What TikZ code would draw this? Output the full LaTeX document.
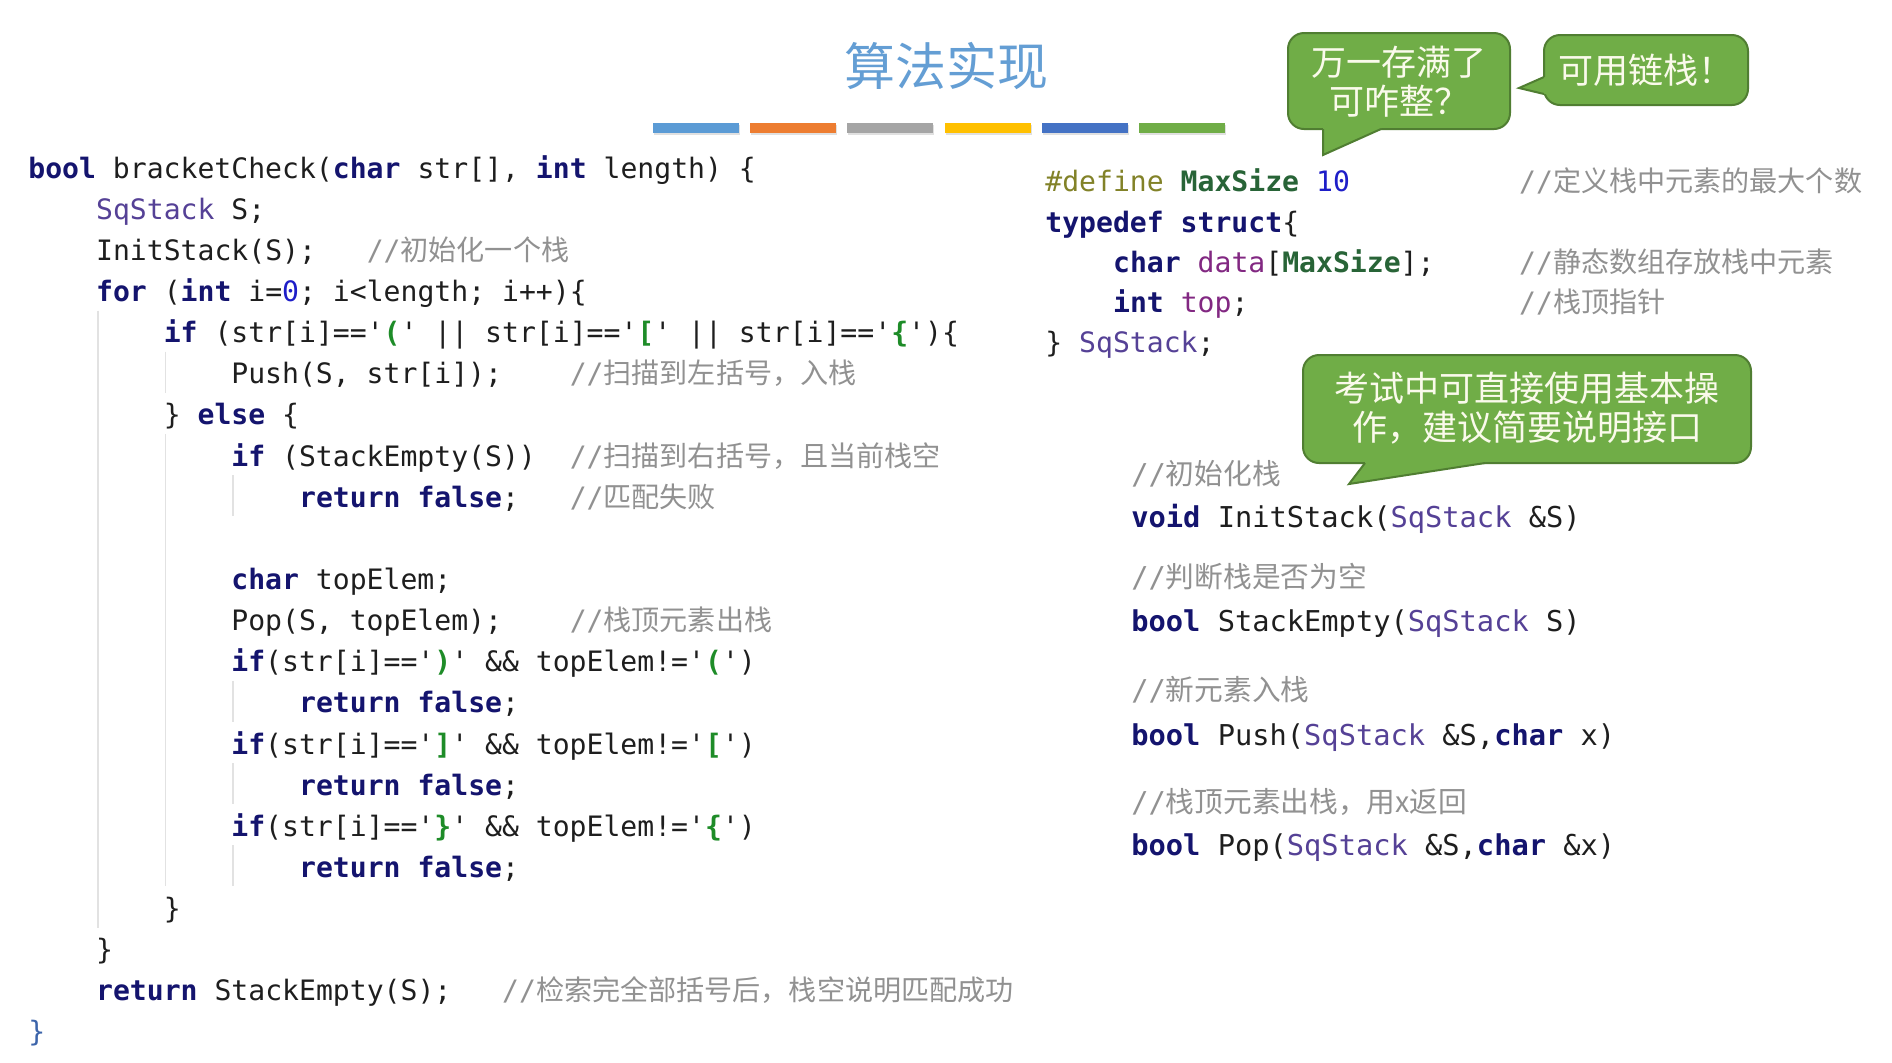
\documentclass[tikz,border=0pt]{standalone}
\usepackage{fontspec}
\setmonofont{DejaVu Sans Mono}
\newfontfamily\cjk{Noto Sans CJK SC}
\definecolor{kwc}{RGB}{20,20,110}
\definecolor{tyc}{RGB}{85,65,150}
\definecolor{litc}{RGB}{30,140,40}
\definecolor{numc}{RGB}{30,30,200}
\definecolor{cmtc}{RGB}{145,145,145}
\definecolor{txtc}{RGB}{30,30,30}
\definecolor{ppc}{RGB}{130,130,40}
\definecolor{macc}{RGB}{40,100,55}
\definecolor{varc}{RGB}{130,40,130}
\definecolor{bracec}{RGB}{60,100,170}
\definecolor{titlec}{RGB}{100,158,212}
\definecolor{bfill}{RGB}{112,173,71}
\definecolor{bdraw}{RGB}{80,126,50}
\definecolor{btext}{RGB}{250,250,235}
\definecolor{guidec}{RGB}{226,226,226}
\definecolor{barA}{RGB}{91,155,213}
\definecolor{barB}{RGB}{237,125,49}
\definecolor{barC}{RGB}{165,165,165}
\definecolor{barD}{RGB}{255,192,0}
\definecolor{barE}{RGB}{68,114,196}
\definecolor{barF}{RGB}{112,173,71}
\newcommand\KW[1]{\textcolor{kwc}{\bfseries #1}}
\newcommand\TY[1]{\textcolor{tyc}{#1}}
\newcommand\LIT[1]{'\textcolor{litc}{\bfseries #1}'}
\newcommand\NUM[1]{\textcolor{numc}{#1}}
\newcommand\CMT[1]{\textcolor{cmtc}{//{\cjk #1}}}
\newcommand\PP[1]{\textcolor{ppc}{#1}}
\newcommand\MAC[1]{\textcolor{macc}{\bfseries #1}}
\newcommand\VAR[1]{\textcolor{varc}{#1}}
\tikzset{
  code/.style={anchor=base west, inner sep=0pt, text=txtc,
    font=\fontsize{14.05}{17}\ttfamily\frenchspacing},
  codeR/.style={code, font=\fontsize{14.35}{17}\ttfamily\frenchspacing},
  bub/.style={fill=bfill, draw=bdraw, line width=1pt, rounded corners=8pt},
  bubedge/.style={draw=bdraw, line width=1pt, line join=miter},
  btxt/.style={text=btext, align=center, inner sep=0pt,
    font=\fontsize{17.5}{19.5}\cjk},
  guide/.style={draw=guidec, line width=0.8pt},
  shadowc/.style={fill=black!12}
}
\begin{document}
\begin{tikzpicture}[x=0.5pt,y=-0.5pt]
\useasboundingbox (0,0) rectangle (1892,1062);
\fill[white] (0,0) rectangle (1892,1062);

% title and colour bars
\node[font=\fontsize{25.5}{26}\cjk, text=titlec, inner sep=0pt] (title) at (946,66) {算法实现};
\foreach \c [count=\i from 0] in {barA,barB,barC,barD,barE,barF}{
  \fill[shadowc] (653+97.2*\i+1,125) rectangle (739+97.2*\i+1,135);
  \fill[\c] (653+97.2*\i,123) rectangle (739+97.2*\i,133);
}

% indent guides
\draw[guide] (97.7,310.6) -- (97.7,927.5);
\draw[guide] (165.4,351.7) -- (165.4,392.7);
\draw[guide] (165.4,434) -- (165.4,886.4);
\draw[guide] (233,475.1) -- (233,516.1);
\draw[guide] (233,680.8) -- (233,721.8);
\draw[guide] (233,763.1) -- (233,804.1);
\draw[guide] (233,845.4) -- (233,886.4);

% left code
\node[code] (l1) at (28,178) {\KW{bool} bracketCheck(\KW{char} str[], \KW{int} length) \{};
\node[code] (l2) at (95.7,219.1) {\TY{SqStack} S;};
\node[code] (l3) at (95.7,260.3) {InitStack(S);};
\node[code] (c3) at (366.4,260.3) {\CMT{初始化一个栈}};
\node[code] (l4) at (95.7,301.4) {\KW{for} (\KW{int} i=\NUM{0}; i<length; i++)\{};
\node[code] (l5) at (163.4,342.6) {\KW{if} (str[i]==\LIT{(} || str[i]==\LIT{[} || str[i]==\LIT{\{})\{};
\node[code] (l6) at (231,383.7) {Push(S, str[i]);};
\node[code] (c6) at (569.4,383.7) {\CMT{扫描到左括号，入栈}};
\node[code] (l7) at (163.4,424.8) {\} \KW{else} \{};
\node[code] (l8) at (231,466) {\KW{if} (StackEmpty(S))};
\node[code] (c8) at (569.4,466) {\CMT{扫描到右括号，且当前栈空}};
\node[code] (l9) at (298.7,507.1) {\KW{return} \KW{false};};
\node[code] (c9) at (569.4,507.1) {\CMT{匹配失败}};
\node[code] (l11) at (231,589.4) {\KW{char} topElem;};
\node[code] (l12) at (231,630.5) {Pop(S, topElem);};
\node[code] (c12) at (569.4,630.5) {\CMT{栈顶元素出栈}};
\node[code] (l13) at (231,671.7) {\KW{if}(str[i]==\LIT{)} \&\& topElem!=\LIT{(})};
\node[code] (l14) at (298.7,712.8) {\KW{return} \KW{false};};
\node[code] (l15) at (231,754) {\KW{if}(str[i]==\LIT{]} \&\& topElem!=\LIT{[})};
\node[code] (l16) at (298.7,795.1) {\KW{return} \KW{false};};
\node[code] (l17) at (231,836.2) {\KW{if}(str[i]==\LIT{\}} \&\& topElem!=\LIT{\{})};
\node[code] (l18) at (298.7,877.4) {\KW{return} \KW{false};};
\node[code] (l19) at (163.4,918.5) {\}};
\node[code] (l20) at (95.7,959.7) {\}};
\node[code] (l21) at (95.7,1000.8) {\KW{return} StackEmpty(S);};
\node[code] (c21) at (501.8,1000.8) {\CMT{检索完全部括号后，栈空说明匹配成功}};
\node[code, text=bracec] (l22) at (28,1041.9) {\}};

% right upper code
\node[code] (r1) at (1045,191) {\PP{\#define} \MAC{MaxSize} \NUM{10}};
\node[code] (rc1) at (1518.8,191) {\CMT{定义栈中元素的最大个数}};
\node[code] (r2) at (1045,232) {\KW{typedef} \KW{struct}\{};
\node[code] (r3) at (1112.7,272) {\KW{char} \VAR{data}[\MAC{MaxSize}];};
\node[code] (rc3) at (1518.8,272) {\CMT{静态数组存放栈中元素}};
\node[code] (r4) at (1112.7,312) {\KW{int} \VAR{top};};
\node[code] (rc4) at (1518.8,312) {\CMT{栈顶指针}};
\node[code] (r5) at (1045,352) {\} \TY{SqStack};};

% right lower code
\node[codeR] (f1) at (1131,484) {\CMT{初始化栈}};
\node[codeR] (f2) at (1131,527) {\KW{void} InitStack(\TY{SqStack} \&S)};
\node[codeR] (f3) at (1131,587) {\CMT{判断栈是否为空}};
\node[codeR] (f4) at (1131,631) {\KW{bool} StackEmpty(\TY{SqStack} S)};
\node[codeR] (f5) at (1131,700) {\CMT{新元素入栈}};
\node[codeR] (f6) at (1131,745) {\KW{bool} Push(\TY{SqStack} \&S,\KW{char} x)};
\node[codeR] (f7) at (1131,812) {\CMT{栈顶元素出栈，用x返回}};
\node[codeR] (f8) at (1131,855) {\KW{bool} Pop(\TY{SqStack} \&S,\KW{char} \&x)};

% bubble 1
\path[bub] (1288,33) rectangle (1510,129);
\fill[bfill] (1323,122) -- (1323,155) -- (1381,129) -- (1381,122) -- cycle;
\draw[bubedge] (1323,129) -- (1323,155) -- (1381,129);
\node[btxt] (b1t) at (1399,82) {万一存满了\\可咋整？};

% bubble 2
\path[bub] (1544,35) rectangle (1748,105);
\fill[bfill] (1551,77) -- (1544,77) -- (1519,88) -- (1544,94) -- (1551,94) -- cycle;
\draw[bubedge] (1544,77) -- (1519,88) -- (1544,94);
\node[btxt] (b2t) at (1646,70) {可用链栈！};

% bubble 3
\path[bub] (1303,355) rectangle (1751,463);
\fill[bfill] (1365,456) -- (1365,463) -- (1349,484) -- (1485,463) -- (1485,456) -- cycle;
\draw[bubedge] (1365,463) -- (1349,484) -- (1485,463);
\node[btxt] (b3t) at (1527,408) {考试中可直接使用基本操\\作，建议简要说明接口};
\end{tikzpicture}
\end{document}
